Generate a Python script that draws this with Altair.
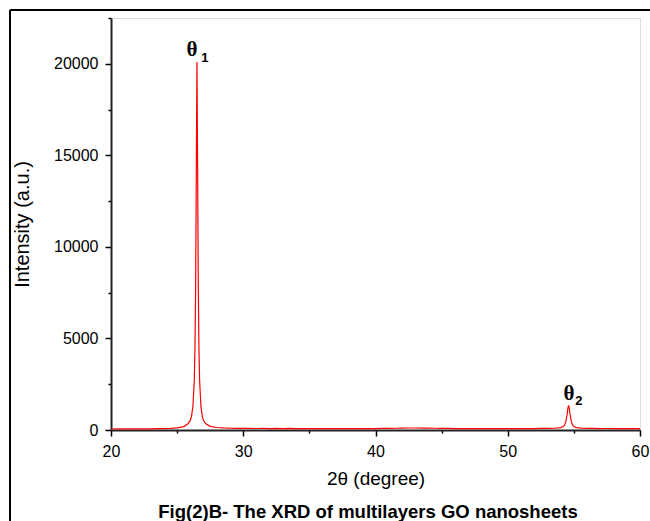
import altair as alt
import pandas as pd

# XRD pattern
two_theta = [20.0, 20.5, 21.0, 21.5, 22.0, 22.5, 23.0, 23.5, 24.0, 24.5, 25.0, 25.5, 25.8,
             26.0, 26.1, 26.2, 26.3, 26.35, 26.4, 26.45, 26.5, 26.55, 26.6, 26.65, 26.7,
             26.8, 26.9, 27.0, 27.2, 27.5, 28.0, 28.5, 29.0, 29.5, 30.0, 30.5, 31.0, 31.5,
             32.0, 32.5, 33.0, 33.5, 34.0, 34.5, 35.0, 35.5, 36.0, 36.5, 37.0, 37.5, 38.0,
             38.5, 39.0, 39.5, 40.0, 40.5, 41.0, 41.5, 42.0, 42.5, 43.0, 43.5, 44.0, 44.5,
             45.0, 45.5, 46.0, 46.5, 47.0, 47.5, 48.0, 48.5, 49.0, 49.5, 50.0, 50.5, 51.0,
             51.5, 52.0, 52.5, 53.0, 53.5, 54.0, 54.2, 54.3, 54.4, 54.5, 54.55, 54.6, 54.65,
             54.7, 54.8, 54.9, 55.0, 55.2, 55.6, 56.0, 56.5, 57.0, 57.5, 58.0, 58.5, 59.0,
             59.5, 60.0]
intensity = [55, 60, 58, 62, 60, 66, 64, 70, 76, 90, 118, 185, 330,
             520, 780, 1350, 2750, 4500, 7800, 14000, 20100, 14200, 7900, 4400, 2700,
             1300, 760, 500, 320, 200, 135, 112, 98, 92, 86, 90, 82, 88,
             80, 85, 78, 84, 80, 76, 82, 78, 75, 80, 74, 78, 72,
             76, 74, 78, 80, 84, 88, 95, 105, 110, 108, 104, 100, 95,
             90, 85, 80, 76, 74, 72, 70, 72, 70, 74, 72, 76, 74,
             78, 80, 84, 88, 95, 130, 190, 280, 480, 900, 1200, 1350, 1200,
             900, 480, 280, 190, 130, 100, 90, 84, 80, 82, 78, 80, 76,
             78, 75]

# peak labels
theta_x = [26.12, 54.63]
theta_y = [20750, 1980]
theta_txt = ["θ", "θ"]
sub_x = [27.1, 55.38]
sub_y = [20300, 1600]
sub_txt = ["1", "2"]

x_ticks = [20, 25, 30, 35, 40, 45, 50, 55, 60]
y_ticks = [0, 2500, 5000, 7500, 10000, 12500, 15000, 17500, 20000, 22500]

caption = "Fig(2)B- The XRD of multilayers GO nanosheets"

df = pd.DataFrame({"x": two_theta, "y": intensity})
df_theta = pd.DataFrame({"x": theta_x, "y": theta_y, "t": theta_txt})
df_sub = pd.DataFrame({"x": sub_x, "y": sub_y, "t": sub_txt})
one = pd.DataFrame({"a": [0]})

FONT = "Liberation Sans"

xscale = alt.Scale(domain=[20, 60], nice=False, zero=False)
yscale = alt.Scale(domain=[0, 22500], nice=False)

xaxis = alt.Axis(
    values=x_ticks,
    labelExpr="datum.value % 10 === 0 ? datum.label : ''",
    tickSize={"condition": {"test": "datum.value % 10 !== 0", "value": 3}, "value": 6},
    tickColor="black", tickWidth=1.5,
    domainColor="#222", domainWidth=2,
    labelFont=FONT, labelFontSize=16, labelColor="black", labelPadding=7,
    labelFlush=False, labelOverlap=False,
    title="2θ (degree)", titleFont=FONT, titleFontSize=19, titleFontWeight="normal",
    titleColor="black", titlePadding=10, grid=False,
)
yaxis = alt.Axis(
    values=y_ticks,
    format="d",
    labelExpr="datum.value % 5000 === 0 && datum.value <= 20000 ? datum.label : ''",
    tickSize={"condition": {"test": "datum.value % 5000 !== 0", "value": 3}, "value": 6},
    tickColor="black", tickWidth=1.5,
    domainColor="#222", domainWidth=2,
    labelFont=FONT, labelFontSize=16, labelColor="black", labelPadding=7,
    labelFlush=False, labelOverlap=False,
    title="Intensity (a.u.)", titleFont=FONT, titleFontSize=20, titleFontWeight="normal",
    titleColor="black", titlePadding=21, grid=False,
)

line = alt.Chart(df).mark_line(color="#ff0000", strokeWidth=1.2, clip=True).encode(
    x=alt.X("x:Q", scale=xscale, axis=xaxis),
    y=alt.Y("y:Q", scale=yscale, axis=yaxis),
)

theta = alt.Chart(df_theta).mark_text(
    font="Liberation Serif", fontSize=21, fontWeight="bold", color="black", baseline="middle"
).encode(x="x:Q", y="y:Q", text="t:N")

sub = alt.Chart(df_sub).mark_text(
    font=FONT, fontSize=13, fontWeight="bold", color="black", baseline="middle"
).encode(x="x:Q", y="y:Q", text="t:N")

frame_top = alt.Chart(one).mark_rule(color="black", strokeWidth=2).encode(
    x=alt.value(-101), x2=alt.value(560), y=alt.value(-8)
)
frame_left = alt.Chart(one).mark_rule(color="black", strokeWidth=2).encode(
    x=alt.value(-101), y=alt.value(-8), y2=alt.value(520)
)

cap = alt.Chart(one).mark_text(
    font=FONT, fontSize=18.5, fontWeight="bold", color="black", baseline="middle", align="center"
).encode(x=alt.value(257), y=alt.value(494), text=alt.value(caption))

chart = alt.layer(line, theta, sub, frame_top, frame_left, cap).properties(
    width=529, height=412,
    padding={"left": 111, "top": 18, "right": 10, "bottom": 91},
    autosize="none",
).configure_view(stroke="#333", strokeWidth=1).configure(background="white")

chart.save("out.html", embed_options={"renderer": "svg", "actions": False})
